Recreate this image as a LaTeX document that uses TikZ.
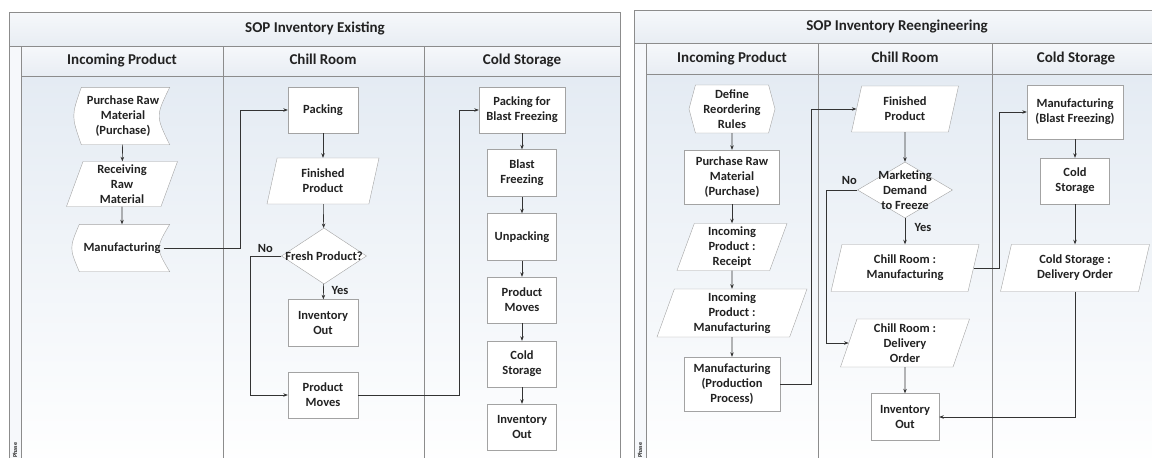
\documentclass[tikz,border=0pt]{standalone}
\usepackage{fontspec}
\setmainfont{Carlito}
\usepackage{tikz}
\usetikzlibrary{arrows.meta, positioning, shapes.geometric, shapes.symbols, backgrounds}
\definecolor{framegray}{HTML}{8C8C8C}
\definecolor{boxgray}{HTML}{A3A3A3}
\definecolor{wire}{HTML}{333333}
\definecolor{ink}{HTML}{222222}
\definecolor{barhi}{HTML}{F6F8FB}
\definecolor{barlo}{HTML}{E8EDF3}
\definecolor{lanetop}{HTML}{E4EBF3}

\newcommand{\boxfont}{\bfseries\fontsize{12.5}{15}\selectfont}
\newcommand{\headfont}{\bfseries\fontsize{15}{17}\selectfont}

\tikzset{
  box/.style={draw=boxgray, fill=white, font=\boxfont, text=ink, align=center, inner sep=0pt},
  proc/.style={box, rectangle},
  io/.style={box, trapezium, trapezium left angle=67, trapezium right angle=113, trapezium stretches body},
  choice/.style={box, diamond},
  prep/.style={box, signal, signal to=west and east, signal pointer angle=150},
  stored/.style={box, draw=none, fill=none, rectangle},
  flow/.style={draw=wire, line width=0.6pt, -{Stealth[length=4.5pt, width=3.5pt]}},
  lbl/.style={font=\boxfont, text=ink, align=center},
  head/.style={font=\headfont, text=ink, text height=11pt, text depth=3.5pt},
}

\begin{document}
\begin{tikzpicture}[x=1pt, y=-1pt]
  \clip (0,0) rectangle (1152,458);

  % swimlane frames
  \begin{scope}[on background layer]
    % existing
    \shade[top color=lanetop, bottom color=white] (21,76) rectangle (620,470);
    \shade[top color=barhi, bottom color=barlo] (9,12) rectangle (620,46);
    \shade[top color=barhi, bottom color=barlo] (21,46) rectangle (620,76);
    \fill[barhi] (9,46) rectangle (21,470);
    \draw[framegray] (9,470) |- (620,12) -- (620,470);
    \draw[framegray] (9,46) -- (620,46) (21,76) -- (620,76);
    \draw[framegray] (21,46) -- (21,470) (223,46) -- (223,470) (424,46) -- (424,470);
    % reengineering
    \shade[top color=lanetop, bottom color=white] (646,74) rectangle (1160,470);
    \shade[top color=barhi, bottom color=barlo] (634,10) rectangle (1160,43);
    \shade[top color=barhi, bottom color=barlo] (646,43) rectangle (1160,74);
    \fill[barhi] (634,43) rectangle (646,470);
    \draw[framegray] (634,470) |- (1160,10);
    \draw[framegray] (634,43) -- (1160,43) (646,74) -- (1160,74);
    \draw[framegray] (646,43) -- (646,470) (818,43) -- (818,470) (992,43) -- (992,470);
  \end{scope}

  \node[head] (titleA) at (315,29) {SOP Inventory Existing};
  \node[head] (inA) at (122,61) {Incoming Product};
  \node[head] (chillA) at (323,61) {Chill Room};
  \node[head] (coldA) at (522,61) {Cold Storage};
  \node[font=\bfseries\fontsize{6}{7}\selectfont, text=ink, rotate=90, anchor=west] (phaseA) at (15,461) {Phase};

  \node[head] (titleB) at (897,27) {SOP Inventory Reengineering};
  \node[head] (inB) at (732,59) {Incoming Product};
  \node[head] (chillB) at (905,59) {Chill Room};
  \node[head] (coldB) at (1076,59) {Cold Storage};
  \node[font=\bfseries\fontsize{6}{7}\selectfont, text=ink, rotate=90, anchor=west] (phaseB) at (640,461) {Phase};

  % existing: incoming product
  \node[stored, minimum width=93pt, minimum height=57pt] (buy) at (123,116) {Purchase Raw\\Material\\(Purchase)};
  \node[io, minimum width=111pt, minimum height=45pt] (recv) at (122,184) {Receiving\\Raw\\Material};
  \node[stored, minimum width=95pt, minimum height=47pt] (mfg) at (122,248) {Manufacturing};

  % existing: chill room
  \node[proc, minimum width=70pt, minimum height=46pt] (pack) at (323,110) {Packing};
  \node[io, minimum width=112pt, minimum height=46pt] (fin) at (323,181) {Finished\\Product};
  \node[choice, minimum width=85pt, minimum height=56pt, label={[lbl]center:Fresh Product?}] (fresh) at (324,256) {};
  \node[proc, minimum width=70pt, minimum height=47pt] (out) at (323,323) {Inventory\\Out};
  \node[proc, minimum width=70pt, minimum height=46pt] (moves) at (323,395) {Product\\Moves};

  % existing: cold storage
  \node[proc, minimum width=86pt, minimum height=46pt] (packbf) at (522,110) {Packing for\\Blast Freezing};
  \node[proc, minimum width=69pt, minimum height=47pt] (blast) at (522,173) {Blast\\Freezing};
  \node[proc, minimum width=69pt, minimum height=47pt] (unpack) at (522,237) {Unpacking};
  \node[proc, minimum width=69pt, minimum height=46pt] (moves2) at (522,300) {Product\\Moves};
  \node[proc, minimum width=69pt, minimum height=46pt] (store) at (522,364) {Cold\\Storage};
  \node[proc, minimum width=69pt, minimum height=46pt] (out2) at (522,427) {Inventory\\Out};

  % reengineering: incoming product
  \node[prep, minimum width=86pt, minimum height=48pt] (rules) at (732,109) {Define\\Reordering\\Rules};
  \node[proc, minimum width=95pt, minimum height=54pt] (buyB) at (732,177) {Purchase Raw\\Material\\(Purchase)};
  \node[io, minimum width=110pt, minimum height=47pt] (rcpt) at (732,247) {Incoming\\Product :\\Receipt};
  \node[io, minimum width=150pt, minimum height=48pt] (inmfg) at (732,313) {Incoming\\Product :\\Manufacturing};
  \node[proc, minimum width=96pt, minimum height=54pt] (prod) at (732,384) {Manufacturing\\(Production\\Process)};

  % reengineering: chill room
  \node[io, minimum width=107pt, minimum height=46pt] (finB) at (905,109) {Finished\\Product};
  \node[choice, minimum width=95pt, minimum height=56pt, label={[lbl]center:Marketing\\Demand\\to Freeze}] (demand) at (905,190) {};
  \node[io, minimum width=148pt, minimum height=47pt] (chmfg) at (905,268) {Chill Room :\\Manufacturing};
  \node[io, minimum width=129pt, minimum height=48pt] (chdo) at (905,343) {Chill Room :\\Delivery\\Order};
  \node[proc, minimum width=68pt, minimum height=47pt] (outB) at (905,417) {Inventory\\Out};

  % reengineering: cold storage
  \node[proc, minimum width=96pt, minimum height=54pt] (blastB) at (1075,112) {Manufacturing\\(Blast Freezing)};
  \node[proc, minimum width=69pt, minimum height=46pt] (storeB) at (1075,181) {Cold\\Storage};
  \node[io, minimum width=149pt, minimum height=47pt] (csdo) at (1075,268) {Cold Storage :\\Delivery Order};

  % stored data outlines
  \begin{scope}[on background layer]
    \foreach \s in {buy, mfg}
      \draw[draw=boxgray, fill=white] ([xshift=5pt]\s.north west) -- (\s.north east)
        .. controls ([xshift=-14pt]\s.east) .. (\s.south east)
        -- ([xshift=5pt]\s.south west)
        .. controls ([xshift=-5pt]\s.west) .. ([xshift=5pt]\s.north west) -- cycle;
  \end{scope}

  % existing flow
  \draw[flow] (buy) -- (recv);
  \draw[flow] (recv) -- (mfg);
  \draw[flow] ([xshift=-6pt]mfg.east) -- ++(77,0) |- (pack.west);
  \draw[flow] (pack) -- (fin);
  \draw[flow] (fin) -- (fresh);
  \draw[flow] (fresh) -- (out);
  \node[lbl] (yesA) at ([xshift=16pt, yshift=-6pt]fresh.south) {Yes};
  \draw[flow] (fresh.west) -- ++(-31,0) |- (moves.west);
  \node[lbl] (noA) at ([xshift=-16pt, yshift=8pt]fresh.west) {No};
  \draw[flow] (moves.east) -- ++(101,0) |- (packbf.west);
  \draw[flow] (packbf) -- (blast);
  \draw[flow] (blast) -- (unpack);
  \draw[flow] (unpack) -- (moves2);
  \draw[flow] (moves2) -- (store);
  \draw[flow] (store) -- (out2);

  % reengineering flow
  \draw[flow] (rules) -- (buyB);
  \draw[flow] (buyB) -- (rcpt);
  \draw[flow] (rcpt) -- (inmfg);
  \draw[flow] (inmfg) -- (prod);
  \draw[flow] (prod.east) -- ++(31,0) |- (finB.west);
  \draw[flow] (finB) -- (demand);
  \draw[flow] (demand) -- (chmfg);
  \node[lbl] (yesB) at ([xshift=18pt, yshift=-9pt]demand.south) {Yes};
  \draw[flow] (demand.west) -- ++(-31,0) |- (chdo.west);
  \node[lbl] (noB) at ([xshift=-8pt, yshift=10pt]demand.west) {No};
  \draw[flow] (chmfg.east) -- ++(26,0) |- (blastB.west);
  \draw[flow] (chdo) -- (outB);
  \draw[flow] (blastB) -- (storeB);
  \draw[flow] (storeB) -- (csdo);
  \draw[flow] (csdo.south) |- (outB.east);
\end{tikzpicture}
\end{document}
